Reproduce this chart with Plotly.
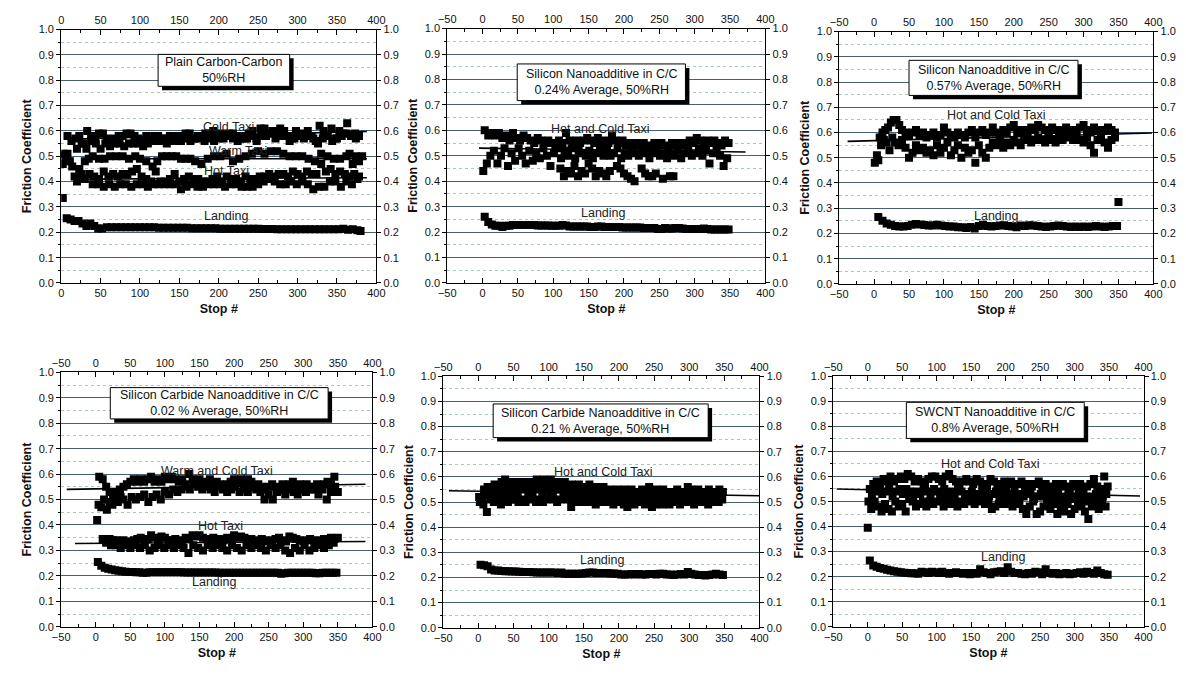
import plotly.graph_objects as go

# ---------------- shared stop numbers ----------------
S3 = [3,8,13,18,23,28,33,38,43,48,53,58,63,68,73,78,83,88,93,98,103,108,113,118,123,128,133,138,143,148,
      153,158,163,168,173,178,183,188,193,198,203,208,213,218,223,228,233,238,243,248,253,258,263,268,273,278,
      283,288,293,298,303,308,313,318,323,328,333,338,343,348]
S1 = [1,6,11,16,21,26,31,36,41,46,51,56,61,66,71,76,81,86,91,96,101,106,111,116,121,126,131,136,141,146,
      151,156,161,166,171,176,181,186,191,196,201,206,211,216,221,226,231,236,241,246,251,256,261,266,271,276,
      281,286,291,296,301,306,311,316,321,326,331,336,341,346]
S2 = [2,7,12,17,22,27,32,37,42,47,52,57,62,67,72,77,82,87,92,97,102,107,112,117,122,127,132,137,142,147,
      152,157,162,167,172,177,182,187,192,197,202,207,212,217,222,227,232,237,242,247,252,257,262,267,272,277,
      282,287,292,297,302,307,312,317,322,327,332,337,342,347]
S0 = [0,5,10,15,20,25,30,35,40,45,50,55,60,65,70,75,80,85,90,95,100,105,110,115,120,125,130,135,140,145,
      150,155,160,165,170,175,180,185,190,195,200,205,210,215,220,225,230,235,240,245,250,255,260,265,270,275,
      280,285,290,295,300,305,310,315,320,325,330,335,340,345]
S5 = [5,10,15,20,25,30,35,40,45,50,55,60,65,70,75,80,85,90,95,100,105,110,115,120,125,130,135,140,145,150,
      155,160,165,170,175,180,185,190,195,200,205,210,215,220,225,230,235,240,245,250,255,260,265,270,275,280,
      285,290,295,300,305,310,315,320,325,330,335,340,345]
S10 = [10,15,20,25,30,35,40,45,50,55,60,65,70,75,80,85,90,95,100,105,110,115,120,125,130,135,140,145,150,155,
       160,165,170,175,180,185,190,195,200,205,210,215,220,225,230,235,240,245,250,255,260,265,270,275,280,285,
       290,295,300,305,310,315,320,325,330,335,340,345,350]

# ---------------- Panel 1: Plain Carbon-Carbon ----------------
p1_cold_x = S3 + [353,358,363,368,373,378]
p1_cold_y = [0.51,0.58,0.56,0.57,0.58,0.55,0.60,0.57,0.58,0.59,0.59,0.57,0.56,0.57,0.58,0.58,0.59,0.59,0.58,0.57,
             0.56,0.58,0.57,0.58,0.58,0.57,0.57,0.58,0.57,0.58,0.58,0.59,0.59,0.57,0.58,0.58,0.59,0.59,0.60,0.58,
             0.59,0.58,0.59,0.59,0.58,0.57,0.57,0.59,0.60,0.56,0.61,0.61,0.59,0.60,0.60,0.61,0.60,0.58,0.57,0.60,
             0.58,0.59,0.60,0.58,0.56,0.62,0.60,0.58,0.61,0.57,0.60,0.59,0.63,0.58,0.59,0.58]
p1_cold2_x = [20,26,32,38,44,50,56,62,68,74,80,86,92,98,104,110,116,122,128,134,140,146,152,158,164,170,176,182,188,194,
              200,206,212,218,224,230,236,242,248,254,260,266,272,278,284,290,296,302,308,314,320,326,332,338,344,350,356,362,368,374]
p1_cold2_y = [0.53,0.55,0.53,0.56,0.55,0.53,0.55,0.54,0.55,0.55,0.54,0.55,0.55,0.55,0.54,0.55,0.56,0.56,0.56,0.55,
              0.56,0.56,0.56,0.57,0.56,0.57,0.57,0.56,0.57,0.56,0.57,0.57,0.58,0.57,0.56,0.58,0.57,0.58,0.57,0.58,
              0.58,0.59,0.57,0.58,0.58,0.56,0.57,0.58,0.57,0.58,0.57,0.55,0.57,0.58,0.56,0.57,0.58,0.59,0.58,0.57]
p1_warm_x = [2,5,8,11,14,17,20,23,26,30,35,40,48,55,62,70,78,86,94,100,108,116,122,128,134,140,146,152,158,164,
             170,178,186,194,202,210,218,226,234,242,250,258,266,274,282,290,298,306,314,322,330,338,346,354,362,366,370,374,378,382]
p1_warm_y = [0.47,0.50,0.51,0.48,0.46,0.42,0.40,0.45,0.43,0.48,0.49,0.50,0.49,0.49,0.50,0.50,0.50,0.49,0.50,0.49,
             0.48,0.46,0.48,0.50,0.50,0.50,0.50,0.49,0.49,0.49,0.48,0.47,0.49,0.50,0.50,0.51,0.48,0.49,0.50,0.51,
             0.52,0.51,0.52,0.52,0.51,0.50,0.50,0.50,0.49,0.48,0.51,0.50,0.49,0.49,0.50,0.51,0.47,0.50,0.48,0.50]
p1_hot_x = [30,36,42,48,54,60,66,72,78,84,90,96,102,108,114,120,126,132,138,144,150,156,162,168,174,180,186,192,198,204,
            210,216,222,228,234,240,246,252,258,264,270,276,282,288,294,300,306,312,318,324,330,336,342,348,354,360,366,372,378]
p1_hot_y = [0.41,0.43,0.42,0.41,0.44,0.42,0.43,0.42,0.43,0.43,0.44,0.45,0.42,0.41,0.40,0.44,0.40,0.40,0.41,0.43,
            0.40,0.41,0.42,0.41,0.41,0.40,0.40,0.41,0.42,0.40,0.42,0.41,0.41,0.40,0.42,0.41,0.41,0.42,0.42,0.43,
            0.42,0.43,0.43,0.42,0.44,0.43,0.42,0.44,0.43,0.43,0.47,0.44,0.45,0.43,0.44,0.43,0.42,0.43,0.42]
p1_hot2_x = [40,47,54,61,68,75,82,89,96,103,110,117,124,131,138,145,152,159,166,173,180,187,194,201,208,215,222,229,236,243,
             250,257,264,271,278,285,292,299,306,313,320,327,334,341,348,355,362,369,376]
p1_hot2_y = [0.39,0.39,0.38,0.39,0.38,0.39,0.39,0.38,0.39,0.39,0.38,0.39,0.39,0.39,0.39,0.39,0.37,0.38,0.39,0.38,
             0.38,0.39,0.39,0.39,0.38,0.39,0.39,0.38,0.38,0.38,0.39,0.40,0.41,0.40,0.39,0.39,0.40,0.39,0.40,0.39,
             0.37,0.38,0.38,0.40,0.40,0.38,0.40,0.39,0.41]
p1_land_x = [2,7,12,17,22,27,32,37,42,47,52,58,64,70,76,82,88,94,100,106,112,118,124,130,136,142,148,154,160,166,
             172,178,184,190,196,202,208,214,220,226,232,238,244,250,256,262,268,274,280,286,292,298,304,310,316,322,
             328,334,340,346,352,358,364,370,376,380]
p1_land_y = [0.335,0.255,0.25,0.245,0.245,0.235,0.225,0.235,0.225,0.215,
             0.215,0.22,0.22,0.22,0.22,0.22,0.22,0.22,0.22,0.22,0.22,0.22,0.218,0.218,0.218,0.218,0.218,0.218,0.218,0.216,
             0.216,0.216,0.216,0.216,0.216,0.214,0.214,0.214,0.214,0.214,0.214,0.214,0.214,0.214,0.213,0.213,0.213,0.212,0.212,0.212,
             0.212,0.212,0.212,0.212,0.212,0.212,0.212,0.212,0.212,0.212,0.212,0.214,0.21,0.212,0.208,0.205]
p1_fit_x = [[15, 388], [30, 388], [28, 388]]
p1_fit_y = [[0.568, 0.598], [0.49, 0.49], [0.41, 0.415]]

# ---------------- Panel 2: Silicon 0.24% ----------------
p2_up_y = [0.60,0.58,0.59,0.58,0.59,0.57,0.58,0.56,0.59,0.57,0.56,0.58,0.57,0.56,0.55,0.57,0.56,0.55,0.56,0.55,
           0.54,0.56,0.55,0.59,0.56,0.55,0.56,0.55,0.56,0.57,0.56,0.55,0.57,0.55,0.56,0.55,0.58,0.56,0.55,0.56,
           0.54,0.55,0.54,0.55,0.54,0.55,0.54,0.53,0.55,0.54,0.55,0.54,0.53,0.55,0.54,0.55,0.54,0.55,0.56,0.55,
           0.57,0.56,0.55,0.56,0.55,0.56,0.55,0.54,0.56,0.55]
p2_mid_y = [0.44,0.47,0.50,0.52,0.47,0.50,0.53,0.46,0.51,0.48,0.53,0.50,0.47,0.52,0.48,0.51,0.49,0.53,0.50,0.46,
            0.51,0.53,0.49,0.52,0.50,0.53,0.49,0.52,0.51,0.50,0.52,0.49,0.51,0.53,0.50,0.52,0.50,0.51,0.53,0.49,
            0.51,0.50,0.52,0.51,0.50,0.52,0.51,0.49,0.51,0.52,0.50,0.51,0.49,0.51,0.50,0.52,0.49,0.51,0.52,0.50,
            0.51,0.53,0.50,0.52,0.47,0.51,0.52,0.50,0.46,0.49]
p2_low_x = [110,115,120,125,130,135,140,145,150,155,160,165,170,175,180,190,195,200,205,210,215,225,230,235,240,245,255,265,270]
p2_low_y = [0.45,0.42,0.44,0.43,0.46,0.42,0.44,0.43,0.47,0.45,0.42,0.44,0.43,0.42,0.44,0.46,0.45,0.43,0.42,0.41,
            0.40,0.45,0.43,0.42,0.42,0.43,0.41,0.42,0.42]
p2_land_y = [0.26,0.24,0.23,0.225,0.225,0.22,0.225,0.225,0.228,0.228,0.228,0.228,0.228,0.228,0.228,0.226,0.226,0.226,0.226,0.225,
             0.225,0.225,0.228,0.226,0.222,0.222,0.222,0.222,0.222,0.222,0.22,0.22,0.222,0.222,0.22,0.22,0.22,0.22,0.22,0.218,
             0.218,0.218,0.218,0.218,0.218,0.216,0.216,0.216,0.216,0.212,0.212,0.216,0.214,0.214,0.216,0.216,0.214,0.212,0.212,0.212,
             0.212,0.212,0.214,0.212,0.21,0.21,0.21,0.21,0.21,0.21]
p2_fit_x = [[-5, 372]]
p2_fit_y = [[0.53, 0.515]]

# ---------------- Panel 3: Silicon 0.57% ----------------
p3_up_x = [8,12,16,20,24,28,32,36,40,45,50,55,60,65,70,75,80,85,90,95,100,105,110,115,120,125,130,135,140,145,
           150,155,160,165,170,175,180,185,190,195,200,205,210,215,220,225,230,235,240,245,250,255,260,265,270,275,
           280,285,290,295,300,305,310,315,320,325,330,335,340,345]
p3_up_y = [0.58,0.60,0.61,0.62,0.64,0.65,0.65,0.63,0.61,0.60,0.59,0.60,0.61,0.59,0.60,0.58,0.59,0.60,0.58,0.59,
           0.62,0.60,0.59,0.58,0.60,0.59,0.58,0.60,0.61,0.58,0.60,0.61,0.59,0.60,0.62,0.60,0.59,0.61,0.60,0.62,
           0.63,0.60,0.61,0.60,0.61,0.62,0.61,0.63,0.62,0.61,0.60,0.62,0.61,0.60,0.61,0.62,0.61,0.60,0.61,0.62,
           0.63,0.61,0.60,0.62,0.61,0.60,0.61,0.62,0.61,0.60]
p3_low_x = [1,4,6,10,14,18,22,26,30,35,40,45,50,55,60,65,70,75,80,85,90,95,100,105,110,115,120,125,130,135,
            140,145,150,155,160,165,170,175,180,185,190,195,200,205,210,215,220,225,230,235,240,245,250,255,260,265,
            270,275,280,285,290,295,300,305,310,315,320,325,330,335,340,345]
p3_low_y = [0.48,0.51,0.49,0.55,0.57,0.56,0.53,0.58,0.56,0.55,0.57,0.54,0.50,0.52,0.55,0.53,0.54,0.52,0.53,0.51,
            0.55,0.52,0.54,0.56,0.51,0.53,0.55,0.50,0.54,0.52,0.53,0.48,0.55,0.52,0.50,0.54,0.56,0.55,0.57,0.54,
            0.56,0.55,0.57,0.56,0.55,0.57,0.58,0.56,0.57,0.58,0.57,0.56,0.58,0.57,0.56,0.58,0.57,0.59,0.58,0.57,
            0.58,0.57,0.56,0.58,0.55,0.52,0.57,0.58,0.56,0.54,0.57,0.58]
p3_land_x = [6,12,18,24,30,36,42,48,54,60,66,72,78,84,90,96,102,108,114,120,126,132,138,144,150,156,162,168,174,180,
             186,192,198,204,210,216,222,228,234,240,246,252,258,264,270,276,282,288,294,300,306,312,318,324,330,336,
             342,348,350]
p3_land_y = [0.265,0.25,0.24,0.235,0.23,0.228,0.228,0.23,0.235,0.238,0.236,0.234,0.232,0.232,0.235,0.232,0.23,0.228,0.228,0.225,
             0.225,0.222,0.226,0.22,0.23,0.235,0.23,0.228,0.23,0.232,0.233,0.23,0.228,0.225,0.232,0.23,0.233,0.232,0.23,0.228,
             0.226,0.228,0.23,0.232,0.23,0.228,0.226,0.228,0.226,0.228,0.226,0.228,0.23,0.228,0.226,0.228,0.23,0.23,0.325]
p3_fit_x = [[-38, 398]]
p3_fit_y = [[0.565, 0.598]]

# ---------------- Panel 4: SiC 0.02% ----------------
p4_wc_up_y = [0.59,0.58,0.55,0.53,0.52,0.53,0.54,0.55,0.56,0.57,0.58,0.57,0.58,0.57,0.58,0.59,0.57,0.58,0.57,0.59,
              0.58,0.59,0.58,0.57,0.58,0.56,0.60,0.58,0.57,0.58,0.56,0.57,0.58,0.56,0.57,0.56,0.55,0.56,0.57,0.58,
              0.57,0.58,0.56,0.58,0.57,0.55,0.56,0.55,0.54,0.55,0.56,0.55,0.54,0.56,0.55,0.56,0.57,0.55,0.56,0.55,
              0.56,0.54,0.55,0.56,0.55,0.56,0.57,0.56,0.59]
p4_wc_low_x = [2,4,8,12,16,20,24,28,32,36,40,46,52,58,64,70,76,82,88,94,100,106,112,118,124,130,136,142,148,154,
               160,166,172,178,184,190,196,202,208,214,220,226,232,238,244,250,256,262,268,274,280,286,292,298,304,310,
               316,322,328,334,340,346,350]
p4_wc_low_y = [0.42,0.48,0.47,0.50,0.46,0.49,0.48,0.50,0.49,0.51,0.50,0.48,0.51,0.50,0.51,0.52,0.49,0.51,0.52,0.50,
               0.53,0.52,0.54,0.53,0.54,0.55,0.54,0.56,0.55,0.54,0.55,0.54,0.53,0.55,0.54,0.53,0.54,0.55,0.53,0.54,
               0.53,0.55,0.54,0.53,0.50,0.52,0.50,0.53,0.54,0.52,0.54,0.53,0.52,0.54,0.53,0.55,0.54,0.52,0.54,0.50,
               0.53,0.55,0.53]
p4_hot_up_y = [0.345,0.34,0.345,0.34,0.34,0.335,0.34,0.33,0.335,0.34,0.345,0.35,0.34,0.345,0.36,0.35,0.34,0.355,0.35,0.34,
               0.34,0.345,0.335,0.34,0.35,0.345,0.36,0.355,0.36,0.35,0.345,0.34,0.35,0.34,0.345,0.34,0.35,0.345,0.36,0.35,
               0.355,0.35,0.34,0.345,0.335,0.34,0.345,0.34,0.335,0.34,0.345,0.35,0.34,0.335,0.355,0.35,0.345,0.34,0.335,0.34,
               0.345,0.34,0.335,0.34,0.345,0.34,0.35,0.345,0.35]
p4_hot_low_x = [15,22,29,36,43,50,57,64,71,78,85,92,99,106,113,120,127,134,141,148,155,162,169,176,183,190,197,204,211,218,
                225,232,239,246,253,260,267,274,281,288,295,302,309,316,323,330,337,344]
p4_hot_low_y = [0.33,0.32,0.32,0.31,0.32,0.31,0.32,0.31,0.32,0.30,0.31,0.32,0.31,0.32,0.31,0.32,0.31,0.29,0.32,0.31,
                0.30,0.32,0.31,0.32,0.31,0.30,0.32,0.31,0.30,0.32,0.31,0.32,0.31,0.30,0.32,0.31,0.32,0.30,0.29,0.31,
                0.30,0.32,0.30,0.31,0.32,0.31,0.32,0.33]
p4_land_y = [0.255,0.24,0.232,0.228,0.225,0.222,0.22,0.218,0.216,0.215,0.215,0.214,0.214,0.212,0.212,0.214,0.214,0.214,0.214,0.214,
             0.214,0.214,0.214,0.214,0.214,0.213,0.213,0.213,0.213,0.213,0.213,0.213,0.213,0.213,0.213,0.212,0.212,0.212,0.212,0.212,
             0.212,0.212,0.212,0.212,0.212,0.212,0.212,0.212,0.212,0.212,0.212,0.212,0.212,0.208,0.21,0.212,0.212,0.212,0.212,0.212,
             0.212,0.212,0.212,0.21,0.21,0.212,0.212,0.212,0.212,0.212]
p4_fit_x = [[-42, 390], [-30, 390]]
p4_fit_y = [[0.54, 0.56], [0.327, 0.335]]

# ---------------- Panel 5: SiC 0.21% ----------------
p5_up_y = [0.52,0.55,0.56,0.55,0.57,0.56,0.58,0.59,0.57,0.58,0.57,0.58,0.56,0.58,0.57,0.58,0.59,0.58,0.59,0.58,
           0.59,0.57,0.58,0.57,0.58,0.56,0.57,0.56,0.57,0.56,0.55,0.57,0.55,0.56,0.55,0.56,0.54,0.55,0.54,0.55,
           0.54,0.55,0.54,0.55,0.54,0.53,0.55,0.54,0.56,0.54,0.55,0.54,0.55,0.54,0.53,0.54,0.55,0.53,0.54,0.56,
           0.55,0.54,0.55,0.53,0.54,0.55,0.54,0.53,0.55,0.54]
p5_mid_y = [0.52,0.50,0.53,0.54,0.53,0.55,0.54,0.55,0.53,0.54,0.55,0.54,0.56,0.55,0.54,0.55,0.56,0.55,0.54,0.56,
            0.55,0.54,0.55,0.56,0.54,0.55,0.54,0.53,0.55,0.54,0.53,0.54,0.53,0.52,0.54,0.53,0.52,0.53,0.54,0.53,
            0.52,0.53,0.52,0.53,0.52,0.51,0.53,0.52,0.53,0.52,0.53,0.52,0.53,0.52,0.51,0.52,0.53,0.52,0.53,0.54,
            0.53,0.52,0.53,0.52,0.53,0.52,0.53,0.52,0.53,0.52]
p5_low_y = [0.50,0.49,0.46,0.51,0.50,0.51,0.49,0.51,0.50,0.51,0.51,0.50,0.51,0.50,0.51,0.52,0.50,0.51,0.50,0.51,
            0.52,0.51,0.50,0.51,0.52,0.51,0.48,0.51,0.50,0.51,0.50,0.51,0.50,0.49,0.51,0.50,0.51,0.50,0.49,0.50,
            0.50,0.49,0.48,0.50,0.49,0.50,0.50,0.49,0.50,0.48,0.49,0.50,0.49,0.50,0.49,0.50,0.50,0.49,0.50,0.51,
            0.50,0.49,0.50,0.51,0.50,0.49,0.50,0.51,0.50,0.51]
p5_land_y = [0.25,0.248,0.245,0.232,0.228,0.228,0.226,0.225,0.225,0.224,0.224,0.223,0.222,0.222,0.222,0.221,0.22,0.22,0.22,0.22,
             0.22,0.22,0.218,0.22,0.215,0.215,0.215,0.215,0.215,0.216,0.218,0.22,0.22,0.218,0.218,0.218,0.218,0.216,0.216,0.215,
             0.212,0.212,0.212,0.214,0.212,0.214,0.212,0.212,0.214,0.214,0.212,0.215,0.215,0.212,0.212,0.21,0.212,0.214,0.212,0.222,
             0.215,0.212,0.21,0.21,0.208,0.21,0.212,0.215,0.212,0.21]
p5_fit_x = [[-42, 400]]
p5_fit_y = [[0.545, 0.525]]

# ---------------- Panel 6: SWCNT 0.8% ----------------
p6_up_y = [0.55,0.57,0.58,0.56,0.59,0.58,0.60,0.58,0.59,0.60,0.59,0.61,0.60,0.58,0.59,0.58,0.57,0.59,0.60,0.60,
           0.59,0.58,0.60,0.61,0.59,0.58,0.57,0.58,0.59,0.58,0.57,0.59,0.58,0.57,0.56,0.59,0.58,0.57,0.56,0.58,
           0.57,0.58,0.56,0.57,0.58,0.56,0.57,0.56,0.57,0.58,0.56,0.57,0.56,0.55,0.57,0.56,0.57,0.56,0.55,0.57,
           0.56,0.57,0.55,0.56,0.57,0.59,0.56,0.55,0.60,0.56]
p6_mid_y = [0.50,0.52,0.54,0.55,0.53,0.54,0.55,0.52,0.54,0.55,0.53,0.55,0.54,0.52,0.54,0.53,0.55,0.54,0.53,0.55,
            0.54,0.53,0.55,0.52,0.54,0.53,0.55,0.54,0.52,0.53,0.54,0.52,0.53,0.55,0.54,0.52,0.53,0.54,0.52,0.53,
            0.54,0.52,0.53,0.51,0.53,0.52,0.54,0.53,0.51,0.52,0.53,0.52,0.54,0.51,0.52,0.53,0.51,0.52,0.53,0.51,
            0.52,0.53,0.51,0.52,0.50,0.52,0.53,0.51,0.52,0.53]
p6_low_y = [0.395,0.47,0.50,0.48,0.46,0.49,0.47,0.46,0.50,0.48,0.49,0.46,0.51,0.50,0.48,0.49,0.50,0.48,0.50,0.49,
            0.50,0.51,0.48,0.50,0.49,0.51,0.48,0.50,0.49,0.50,0.51,0.49,0.50,0.51,0.49,0.50,0.47,0.48,0.49,0.50,
            0.49,0.51,0.48,0.50,0.49,0.47,0.45,0.48,0.50,0.45,0.46,0.48,0.50,0.47,0.49,0.45,0.48,0.46,0.49,0.45,
            0.47,0.49,0.48,0.46,0.43,0.48,0.50,0.47,0.49,0.48]
p6_land_y = [0.265,0.245,0.24,0.235,0.232,0.228,0.225,0.222,0.22,0.218,0.216,0.215,0.214,0.214,0.212,0.22,0.218,0.215,0.22,0.218,
             0.215,0.22,0.215,0.212,0.215,0.218,0.215,0.212,0.215,0.21,0.215,0.212,0.23,0.218,0.215,0.21,0.218,0.22,0.222,0.215,
             0.238,0.22,0.215,0.215,0.212,0.21,0.215,0.212,0.22,0.218,0.21,0.23,0.215,0.212,0.215,0.21,0.212,0.215,0.21,0.212,
             0.215,0.218,0.212,0.22,0.215,0.212,0.225,0.215,0.21,0.208]
p6_fit_x = [[-45, 395]]
p6_fit_y = [[0.55, 0.522]]

# ---------------- text ----------------
box_texts = ["Plain Carbon-Carbon<br>50%RH",
             "Silicon Nanoadditive in C/C<br>0.24% Average, 50%RH",
             "Silicon Nanoadditive in C/C<br>0.57% Average, 50%RH",
             "Silicon Carbide Nanoadditive in C/C<br>0.02 % Average, 50%RH",
             "Silicon Carbide Nanoadditive in C/C<br>0.21 % Average, 50%RH",
             "SWCNT Nanoadditive in C/C<br>0.8% Average, 50%RH"]
x_title = "Stop #"
y_title = "Friction Coefficient"

# ---------------- layout geometry (styling) ----------------
W, H = 1186, 674
panel_px = [  # left, right, top, bottom in pixels
    (53, 373, 24, 282),
    (445, 768, 23, 282),
    (843, 1162, 26, 283),
    (53, 369, 373, 632),
    (441, 762, 377, 633),
    (837, 1152, 377, 632),
]
x_ranges = [[0, 400], [-50, 400], [-50, 400], [-50, 400], [-50, 400], [-50, 400]]
boxes = [  # x0, x1, y0, y1 in data units
    (123, 290, 0.776, 0.902),
    (49, 287, 0.717, 0.861),
    (50, 292, 0.747, 0.886),
    (21, 336, 0.817, 0.940),
    (21, 327, 0.756, 0.890),
    (56, 314, 0.752, 0.896),
]
labels = [
    [("Cold Taxi", 212, 0.617), ("Warm Taxi", 225, 0.522), ("Hot Taxi", 210, 0.44), ("Landing", 210, 0.265)],
    [("Hot and Cold Taxi", 166, 0.604), ("Landing", 171, 0.277)],
    [("Hot and Cold Taxi", 174, 0.668), ("Landing", 175, 0.27)],
    [("Warm and Cold Taxi", 175, 0.614), ("Hot Taxi", 181, 0.395), ("Landing", 171, 0.176)],
    [("Hot and Cold Taxi", 177, 0.621), ("Landing", 177, 0.27)],
    [("Hot and Cold Taxi", 178, 0.648), ("Landing", 197, 0.28)],
]

panel_series = [
    [(p1_cold_x, p1_cold_y), (p1_cold2_x, p1_cold2_y), (p1_warm_x, p1_warm_y),
     (p1_hot_x, p1_hot_y), (p1_hot2_x, p1_hot2_y), (p1_land_x, p1_land_y)],
    [(S3, p2_up_y), (S1, p2_mid_y), (p2_low_x, p2_low_y), (S3, p2_land_y)],
    [(p3_up_x, p3_up_y), (p3_low_x, p3_low_y), (p3_land_x, p3_land_y)],
    [(S5, p4_wc_up_y), (p4_wc_low_x, p4_wc_low_y), (S10, p4_hot_up_y),
     (p4_hot_low_x, p4_hot_low_y), (S3, p4_land_y)],
    [(S3, p5_up_y), (S1, p5_mid_y), (S2, p5_low_y), (S3, p5_land_y)],
    [(S3, p6_up_y), (S1, p6_mid_y), (S0, p6_low_y), (S3, p6_land_y)],
]
panel_fits = [(p1_fit_x, p1_fit_y), (p2_fit_x, p2_fit_y), (p3_fit_x, p3_fit_y),
              (p4_fit_x, p4_fit_y), (p5_fit_x, p5_fit_y), (p6_fit_x, p6_fit_y)]

FONT = "Liberation Sans, Arial, sans-serif"
fig = go.Figure()
layout = {}
shapes = []
annotations = []


def ax_name(kind, n):
    return kind + "axis" + ("" if n == 1 else str(n))


def ax_ref(kind, n):
    return kind + ("" if n == 1 else str(n))


for i in range(6):
    b, t = 2 * i + 1, 2 * i + 2
    l, r, tp, bt = panel_px[i]
    xd = [l / W, r / W]
    yd = [1 - bt / H, 1 - tp / H]
    xr = x_ranges[i]
    xb, xt, yl, yr = ax_ref("x", b), ax_ref("x", t), ax_ref("y", b), ax_ref("y", t)

    for xs, ys in panel_series[i]:
        n = min(len(xs), len(ys))
        fig.add_trace(go.Scatter(x=xs[:n], y=ys[:n], mode="markers", xaxis=xb, yaxis=yl,
                                 marker=dict(symbol="square", size=8, color="black", line=dict(width=0)),
                                 showlegend=False, hoverinfo="x+y"))
    fx, fy = panel_fits[i]
    for a, c in zip(fx, fy):
        fig.add_trace(go.Scatter(x=a, y=c, mode="lines", xaxis=xt, yaxis=yr,
                                 line=dict(color="black", width=1.6), showlegend=False))

    tickf = dict(family=FONT, size=11, color="#111")
    titlef = dict(family=FONT, size=12.5, color="#111", weight="bold")
    common_x = dict(range=xr, dtick=50, tick0=0, showgrid=False, zeroline=False, showline=True,
                    linecolor="black", linewidth=1, ticks="inside", ticklen=5, tickcolor="black",
                    tickfont=tickf, minor=dict(dtick=25, ticks="inside", ticklen=3, tickcolor="black"))
    layout[ax_name("x", b)] = dict(domain=xd, anchor=yl, side="bottom",
                                   title=dict(text=x_title, font=titlef, standoff=6),
                                   **common_x)
    layout[ax_name("x", t)] = dict(overlaying=xb, anchor=yl, side="top", **common_x)
    common_y = dict(range=[0, 1], dtick=0.1, tick0=0, tickformat=".1f", zeroline=False, showline=True,
                    linecolor="black", linewidth=1, ticks="outside", ticklen=4, tickcolor="black",
                    tickfont=tickf)
    layout[ax_name("y", b)] = dict(domain=yd, anchor=xb, side="left", showgrid=True,
                                   gridcolor="#4a5f73", gridwidth=1,
                                   minor=dict(dtick=0.05, showgrid=True, gridcolor="#a9c8b8", griddash="dot",
                                              gridwidth=1, ticks="outside", ticklen=2, tickcolor="black"),
                                   title=dict(text=y_title, font=titlef, standoff=4),
                                   **common_y)
    layout[ax_name("y", t)] = dict(overlaying=yl, anchor=xb, side="right", showgrid=False, **common_y)

    x0, x1, y0, y1 = boxes[i]
    dx = (xr[1] - xr[0]) / (r - l) * 4
    dy = 1.0 / (bt - tp) * 4
    shapes.append(dict(type="rect", xref=xb, yref=yl, x0=x0 + dx, x1=x1 + dx, y0=y0 - dy, y1=y1 - dy,
                       fillcolor="black", line=dict(width=0), layer="above"))
    shapes.append(dict(type="rect", xref=xb, yref=yl, x0=x0, x1=x1, y0=y0, y1=y1,
                       fillcolor="white", line=dict(color="black", width=1), layer="above"))
    annotations.append(dict(x=(x0 + x1) / 2, y=(y0 + y1) / 2, xref=xb, yref=yl, text=box_texts[i],
                            showarrow=False, font=dict(family=FONT, size=12.5, color="#111"),
                            align="center"))
    for txt, lx, ly in labels[i]:
        annotations.append(dict(x=lx, y=ly, xref=xb, yref=yl, text=txt, showarrow=False,
                                font=dict(family=FONT, size=12.5, color="#222")))

fig.update_layout(width=W, height=H, margin=dict(l=0, r=0, t=0, b=0), paper_bgcolor="white",
                  plot_bgcolor="white", shapes=shapes, annotations=annotations, showlegend=False,
                  **layout)
fig.write_html("out.html")
